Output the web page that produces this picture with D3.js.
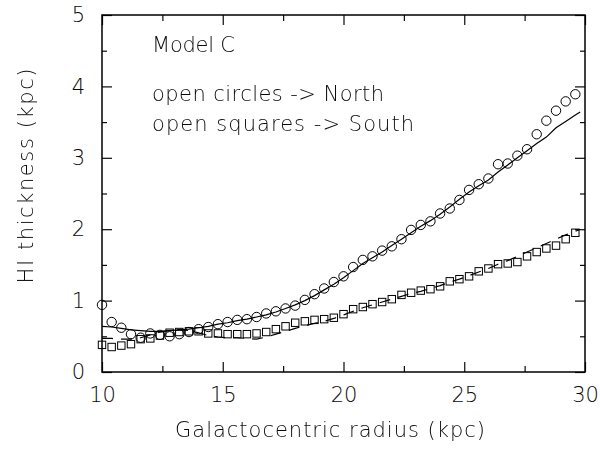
<!DOCTYPE html>
<html>
<head>
<meta charset="utf-8">
<script src="https://cdn.jsdelivr.net/npm/d3@7"></script>
<style>
  body { margin: 0; background: #fff; }
  text { font-family: "DejaVu Sans", sans-serif; font-weight: 200; fill: #000; }
</style>
</head>
<body>
<div id="graph"></div>
<script>
// observed radii (kpc)
const radius = [10.0, 10.4, 10.8, 11.2, 11.6, 12.0, 12.4, 12.8, 13.2, 13.6,
                14.0, 14.4, 14.8, 15.2, 15.6, 16.0, 16.4, 16.8, 17.2, 17.6,
                18.0, 18.4, 18.8, 19.2, 19.6, 20.0, 20.4, 20.8, 21.2, 21.6,
                22.0, 22.4, 22.8, 23.2, 23.6, 24.0, 24.4, 24.8, 25.2, 25.6,
                26.0, 26.4, 26.8, 27.2, 27.6, 28.0, 28.4, 28.8, 29.2, 29.6];

// HI thickness, north (open circles)
const north = [0.94, 0.70, 0.62, 0.53, 0.48, 0.54, 0.52, 0.50, 0.53, 0.56,
               0.60, 0.63, 0.67, 0.70, 0.73, 0.74, 0.77, 0.82, 0.85, 0.89,
               0.93, 1.01, 1.09, 1.17, 1.26, 1.34, 1.47, 1.57, 1.62, 1.70,
               1.76, 1.86, 1.99, 2.06, 2.11, 2.22, 2.29, 2.41, 2.55, 2.63,
               2.71, 2.91, 2.92, 3.03, 3.12, 3.33, 3.52, 3.66, 3.79, 3.89];

// HI thickness, south (open squares)
const south = [0.38, 0.35, 0.37, 0.39, 0.46, 0.47, 0.51, 0.55, 0.56, 0.57,
               0.57, 0.54, 0.54, 0.53, 0.53, 0.53, 0.54, 0.56, 0.60, 0.64,
               0.69, 0.71, 0.73, 0.74, 0.76, 0.81, 0.88, 0.91, 0.95, 0.98,
               1.02, 1.08, 1.11, 1.14, 1.16, 1.20, 1.27, 1.30, 1.34, 1.41,
               1.45, 1.51, 1.52, 1.54, 1.62, 1.68, 1.73, 1.77, 1.86, 1.95];

// Model C curves
const modelRadius = [10.0, 10.4, 10.8, 11.2, 11.6, 12.0, 12.4, 12.8, 13.2, 13.6,
                     14.0, 14.4, 14.8, 15.2, 15.6, 16.0, 16.4, 16.8, 17.2, 17.6,
                     18.0, 18.4, 18.8, 19.2, 19.6, 20.0, 20.4, 20.8, 21.2, 21.6,
                     22.0, 22.4, 22.8, 23.2, 23.6, 24.0, 24.4, 24.8, 25.2, 25.6,
                     26.0, 26.4, 26.8, 27.2, 27.6, 28.0, 28.4, 28.8, 29.2, 29.6, 29.8];

const modelNorth = [0.64, 0.63, 0.61, 0.59, 0.58, 0.57, 0.57, 0.58, 0.59, 0.60,
                    0.62, 0.64, 0.67, 0.69, 0.72, 0.74, 0.77, 0.80, 0.84, 0.89,
                    0.94, 1.00, 1.07, 1.15, 1.23, 1.32, 1.42, 1.52, 1.60, 1.68,
                    1.77, 1.86, 1.95, 2.04, 2.12, 2.21, 2.31, 2.42, 2.52, 2.61,
                    2.69, 2.80, 2.90, 3.00, 3.10, 3.20, 3.29, 3.42, 3.51, 3.60, 3.64];

const modelSouth = [0.47, 0.47, 0.46, 0.46, 0.48, 0.52, 0.56, 0.58, 0.59, 0.58,
                    0.55, 0.51, 0.49, 0.48, 0.48, 0.47, 0.46, 0.49, 0.53, 0.57,
                    0.61, 0.65, 0.68, 0.71, 0.75, 0.80, 0.85, 0.90, 0.94, 0.98,
                    1.02, 1.06, 1.10, 1.13, 1.17, 1.21, 1.26, 1.30, 1.35, 1.40,
                    1.45, 1.51, 1.56, 1.62, 1.68, 1.74, 1.80, 1.86, 1.92, 1.97, 2.00];

const xMajor = [10, 15, 20, 25, 30];
const xMinor = [12.5, 17.5, 22.5, 27.5];
const yMajor = [0, 1, 2, 3, 4, 5];
const yMinor = [0.5, 1.5, 2.5, 3.5, 4.5];

const notes = ["Model C", "open circles -> North", "open squares -> South"];

let w = 600;
let h = 451;
let plotL = 102, plotR = 585, plotT = 15, plotB = 372;

const x = d3.scaleLinear().domain([10, 30]).range([plotL, plotR]);
const y = d3.scaleLinear().domain([0, 5]).range([plotB, plotT]);

const svg = d3.select("#graph")
              .append("svg")
              .attr("width", w)
              .attr("height", h);

svg.append("rect").attr("width", w).attr("height", h).attr("fill", "#fff");

// ticks (inward) on all four sides; slight opacity keeps text grey-smoothed
function ticks(axis, tx, ty) {
  const g = svg.append("g")
     .attr("opacity", 0.96)
     .attr("transform", `translate(${tx}, ${ty})`)
     .call(axis);
  g.select(".domain").remove();
  g.selectAll("line").attr("stroke", "#000").attr("stroke-width", 1.2);
  g.selectAll("text")
   .style("font-size", "21px")
   .style("font-family", "DejaVu Sans, sans-serif")
   .style("font-weight", 200)
   .attr("fill", "#000");
  return g;
}

ticks(d3.axisBottom(x).tickValues(xMajor).tickSize(-10).tickPadding(15).tickFormat(d => d), 0, plotB);
ticks(d3.axisBottom(x).tickValues(xMinor).tickSize(-6).tickFormat(""), 0, plotB);
ticks(d3.axisTop(x).tickValues(xMajor).tickSize(-10).tickFormat(""), 0, plotT);
ticks(d3.axisTop(x).tickValues(xMinor).tickSize(-6).tickFormat(""), 0, plotT);

ticks(d3.axisLeft(y).tickValues(yMajor).tickSize(-10).tickPadding(17).tickFormat(d => d), plotL, 0);
ticks(d3.axisLeft(y).tickValues(yMinor).tickSize(-5).tickFormat(""), plotL, 0);
ticks(d3.axisRight(y).tickValues(yMajor).tickSize(-10).tickFormat(""), plotR, 0);
ticks(d3.axisRight(y).tickValues(yMinor).tickSize(-5).tickFormat(""), plotR, 0);

svg.append("rect")
   .attr("x", plotL)
   .attr("y", plotT)
   .attr("width", plotR - plotL)
   .attr("height", plotB - plotT)
   .attr("fill", "none")
   .attr("stroke", "#000")
   .attr("stroke-width", 1.5);

// model lines
const line = d3.line().x(d => x(d[0])).y(d => y(d[1]));

svg.append("path")
   .datum(d3.zip(modelRadius, modelNorth))
   .attr("d", line)
   .attr("fill", "none")
   .attr("stroke", "#000")
   .attr("stroke-width", 1.2);

svg.append("path")
   .datum(d3.zip(modelRadius, modelSouth))
   .attr("d", line)
   .attr("fill", "none")
   .attr("stroke", "#000")
   .attr("stroke-width", 1.2)
   .attr("stroke-dasharray", "11,8");

// data points
svg.selectAll("circle.north")
   .data(d3.zip(radius, north))
   .enter()
   .append("circle")
   .attr("class", "north")
   .attr("cx", d => x(d[0]))
   .attr("cy", d => y(d[1]))
   .attr("r", 4.7)
   .attr("fill", "none")
   .attr("stroke", "#000")
   .attr("stroke-width", 1);

svg.selectAll("rect.south")
   .data(d3.zip(radius, south))
   .enter()
   .append("rect")
   .attr("class", "south")
   .attr("x", d => x(d[0]) - 3.7)
   .attr("y", d => y(d[1]) - 3.7)
   .attr("width", 7.4)
   .attr("height", 7.4)
   .attr("fill", "none")
   .attr("stroke", "#000")
   .attr("stroke-width", 1);

// annotations and titles
const txt = svg.append("g").attr("opacity", 0.96);

const noteX = [152, 152, 152];
const noteY = [52, 101, 131];
const noteLen = [83, 232, 262];
notes.forEach((t, i) => {
  txt.append("text")
     .attr("x", noteX[i])
     .attr("y", noteY[i])
     .attr("textLength", noteLen[i])
     .attr("lengthAdjust", "spacing")
     .style("font-size", "21px")
     .text(t);
});

txt.append("text")
   .attr("x", 330)
   .attr("y", 437)
   .attr("text-anchor", "middle")
   .attr("textLength", 310)
   .attr("lengthAdjust", "spacing")
   .style("font-size", "21px")
   .text("Galactocentric radius (kpc)");

txt.append("text")
   .attr("transform", "translate(33, 176) rotate(-90)")
   .attr("text-anchor", "middle")
   .attr("textLength", 215)
   .attr("lengthAdjust", "spacing")
   .style("font-size", "21px")
   .text("HI thickness (kpc)");
</script>
</body>
</html>
